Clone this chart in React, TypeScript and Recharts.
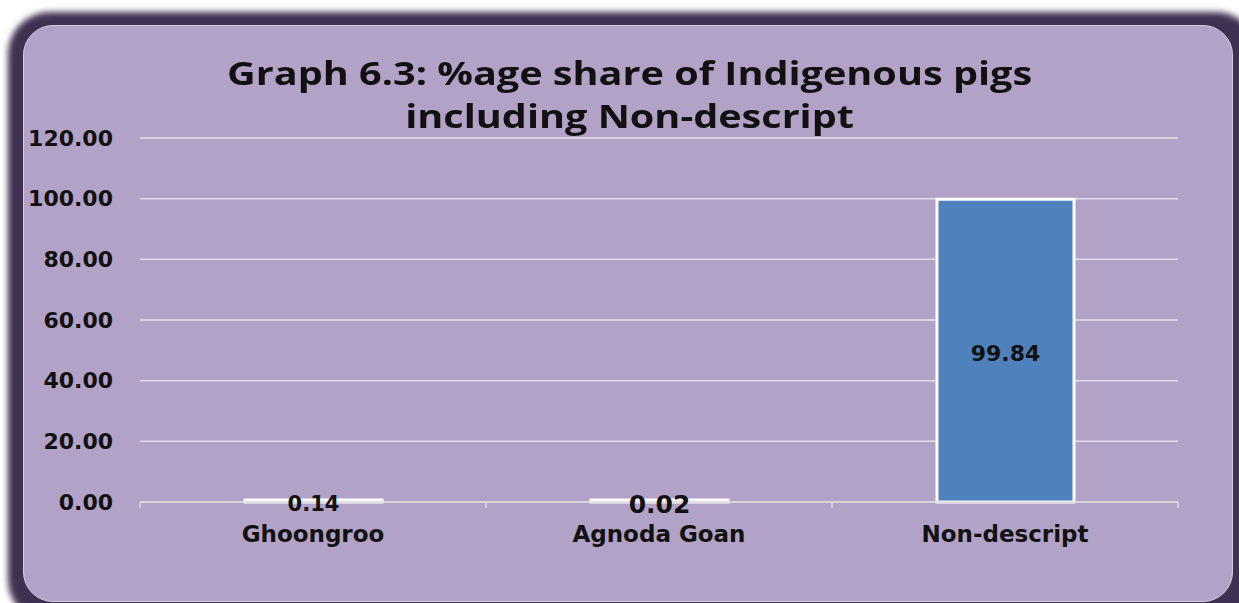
import React from "react";
import { BarChart, Bar, XAxis, YAxis, CartesianGrid, LabelList } from "recharts";

const categories = ["Ghoongroo", "Agnoda Goan", "Non-descript"];
const shares = [0.14, 0.02, 99.84];
const yTicks = [0, 20, 40, 60, 80, 100, 120];
const titleLines = ["Graph 6.3: %age share of Indigenous pigs", "including Non-descript"];

const data = categories.map((name, i) => ({ name, share: shares[i] }));

const W = 1239;
const H = 603;
const M = { top: 138, right: 61, bottom: 61, left: 0 };
const Y_W = 140;
const X_H = 40;
const band = (W - M.left - M.right - Y_W) / categories.length;

const labelFont = [21, 25, 22];
const FONT = "'DejaVu Sans', Verdana, sans-serif";

const XTick = (props: any) => {
  const { x, y, payload, index } = props;
  const lines = [<line key="l" x1={x - band / 2} x2={x - band / 2} y1={y} y2={y + 6} stroke="#D9D9D9" strokeWidth={1.5} />];
  if (index === categories.length - 1) {
    lines.push(<line key="r" x1={x + band / 2} x2={x + band / 2} y1={y} y2={y + 6} stroke="#D9D9D9" strokeWidth={1.5} />);
  }
  return (
    <g>
      {lines}
      <text x={x} y={y + 32} textAnchor="middle" dominantBaseline="central" fontFamily={FONT} fontWeight="bold" fontSize={23} fill="#111">
        {payload.value}
      </text>
    </g>
  );
};

const ValueLabel = (props: any) => {
  const { x, y, width, height, value, index } = props;
  return (
    <text
      x={x + width / 2}
      y={y + height / 2 + 3}
      textAnchor="middle"
      dominantBaseline="central"
      fontFamily={FONT}
      fontWeight="bold"
      fontSize={labelFont[index] ?? 21}
      fill="#111"
    >
      {Number(value).toFixed(2)}
    </text>
  );
};

export default function App() {
  return (
    <div style={{ position: "absolute", left: 0, top: 0, width: W, height: H, overflow: "hidden", background: "#fff" }}>
      <div
        style={{
          position: "absolute",
          left: 8,
          top: 12,
          width: 1250,
          height: 610,
          background: "#3F3151",
          borderRadius: 42,
          filter: "blur(3px)",
        }}
      />
      <div
        style={{
          position: "absolute",
          left: 23,
          top: 25,
          width: 1208,
          height: 575,
          background: "#B3A2C7",
          borderRadius: 30,
          border: "1px solid #D5CCE0",
        }}
      />
      <div style={{ position: "absolute", left: 0, top: 0 }}>
        <BarChart width={W} height={H} data={data} margin={M} barSize={137}>
          <CartesianGrid vertical={false} stroke="#E4DEEA" strokeWidth={1.5} />
          <XAxis
            dataKey="name"
            height={X_H}
            axisLine={{ stroke: "#D9D9D9", strokeWidth: 1.5 }}
            tickLine={false}
            tickSize={0}
            tickMargin={0}
            tick={<XTick />}
            interval={0}
          />
          <YAxis
            width={Y_W}
            domain={[0, 120]}
            ticks={yTicks}
            axisLine={false}
            tickLine={false}
            tickSize={0}
            tickMargin={27}
            tickFormatter={(v: number) => v.toFixed(2)}
            tick={{ fontFamily: FONT, fontWeight: "bold", fontSize: 22, fill: "#111" }}
          />
          <Bar dataKey="share" fill="#4F81BD" stroke="#FFFFFF" strokeWidth={3} minPointSize={2} isAnimationActive={false}>
            <LabelList dataKey="share" content={<ValueLabel />} />
          </Bar>
        </BarChart>
      </div>
      <div
        style={{
          position: "absolute",
          left: 0,
          top: 51,
          width: 1259,
          textAlign: "center",
          fontFamily: "'Open Sans', sans-serif",
          fontWeight: 700,
          fontSize: 33,
          lineHeight: "43px",
          color: "#111",
        }}
      >
        {titleLines.map((t) => (
          <div key={t} style={{ transform: "scaleX(1.2)", transformOrigin: "629px 50%", width: 1259, height: 43 }}>
            {t}
          </div>
        ))}
      </div>
    </div>
  );
}
